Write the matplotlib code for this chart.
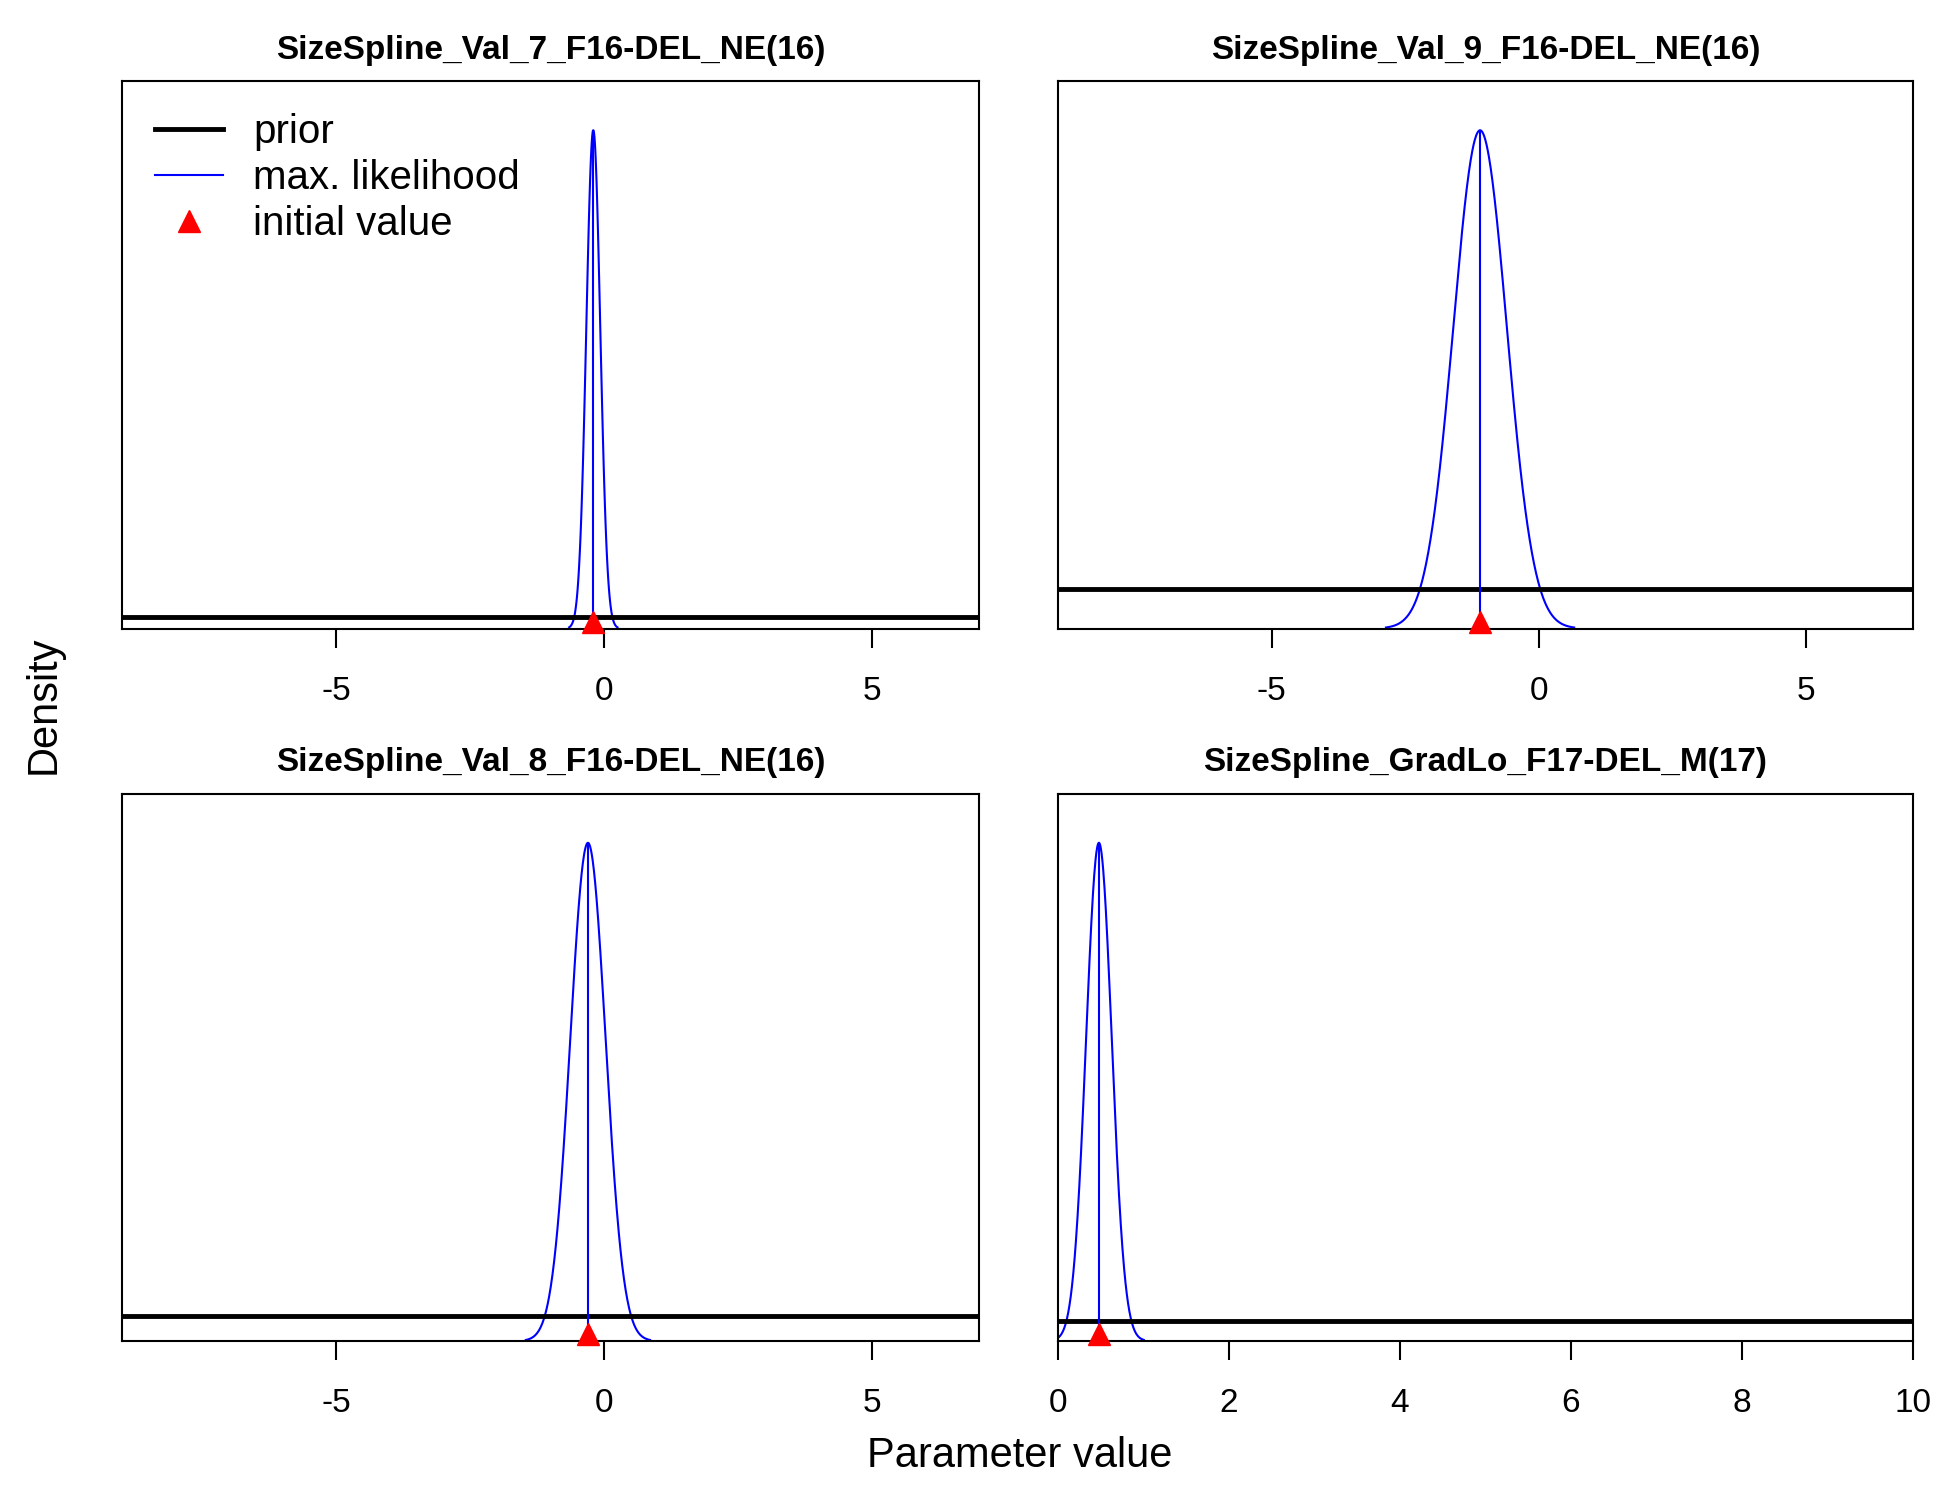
import numpy as np
import matplotlib
matplotlib.use('Agg')
import matplotlib.pyplot as plt

plt.rcParams['font.family'] = ['Liberation Sans', 'DejaVu Sans']
plt.rcParams['axes.unicode_minus'] = False

titles = ["SizeSpline_Val_7_F16-DEL_NE(16)", "SizeSpline_Val_9_F16-DEL_NE(16)",
          "SizeSpline_Val_8_F16-DEL_NE(16)", "SizeSpline_GradLo_F17-DEL_M(17)"]
ml_mean = [-0.2, -1.1, -0.3, 0.48]
ml_sd = [0.13, 0.5, 0.33, 0.15]
init_val = [-0.2, -1.1, -0.3, 0.48]
prior_frac = [0.021, 0.073, 0.046, 0.037]   # prior height relative to y-axis top
xlims = [(-9, 7), (-9, 7), (-9, 7), (0, 10)]
xticks = [[-5, 0, 5], [-5, 0, 5], [-5, 0, 5], [0, 2, 4, 6, 8, 10]]

fig = plt.figure(figsize=(19.5, 15), dpi=100)
pos = [[0.0628, 0.581, 0.439, 0.365], [0.5425, 0.581, 0.4385, 0.365],
       [0.0628, 0.106, 0.439, 0.365], [0.5425, 0.106, 0.4385, 0.365]]

for i in range(4):
    ax = fig.add_axes(pos[i])
    x = np.linspace(xlims[i][0], xlims[i][1], 2000)
    y = np.exp(-0.5 * ((x - ml_mean[i]) / ml_sd[i]) ** 2) / (ml_sd[i] * np.sqrt(2 * np.pi))
    peak = y.max()
    top = peak / 0.91
    mask = y > peak * 0.002
    ax.plot(x[mask], y[mask], color='blue', lw=1.5, label='max. likelihood')
    ax.axhline(prior_frac[i] * top, color='black', lw=3.5, label='prior')
    ax.vlines(ml_mean[i], 0, peak, color='blue', lw=1.5)
    ax.plot([init_val[i]], [0.012 * top], marker='^', color='red', ms=16, ls='none',
            clip_on=False, zorder=5, label='initial value')
    ax.set_xlim(*xlims[i])
    ax.set_ylim(0, top)
    ax.set_yticks([])
    ax.set_xticks(xticks[i])
    ax.tick_params(axis='x', direction='out', length=14, width=1.5, pad=20, labelsize=24)
    for s in ax.spines.values():
        s.set_linewidth(1.5)
    ax.set_title(titles[i], fontsize=24, fontweight='bold', pad=16)
    if i == 0:
        h, l = ax.get_legend_handles_labels()
        order = [1, 0, 2]
        ax.legend([h[k] for k in order], [l[k] for k in order], loc='upper left',
                  frameon=False, fontsize=29, handlelength=1.7, handletextpad=0.75,
                  borderaxespad=0.5, labelspacing=0.2, borderpad=0.3)

fig.text(0.523, 0.022, 'Parameter value', ha='center', fontsize=30)
fig.text(0.012, 0.53, 'Density', va='center', rotation=90, fontsize=30)
fig.savefig('out.png', dpi=100)
